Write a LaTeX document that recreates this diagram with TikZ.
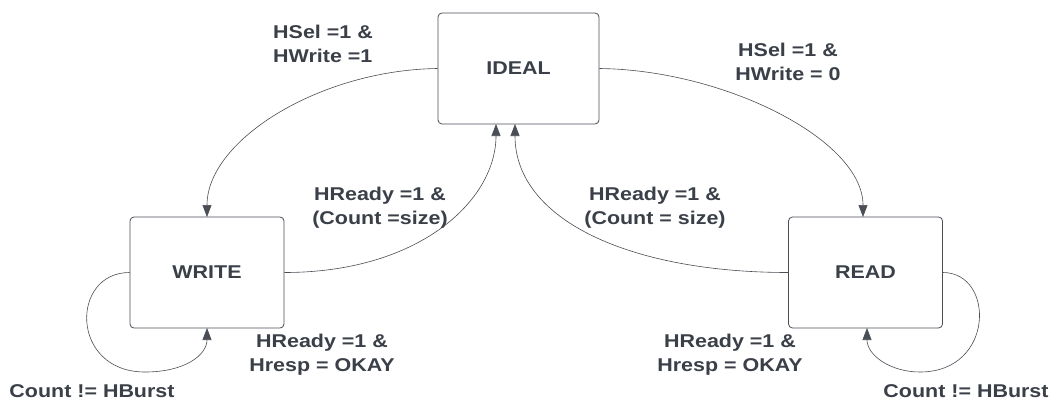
\documentclass[tikz,border=0pt]{standalone}
\usepackage{fontspec}
\setmainfont[FakeStretch=1.16]{Liberation Sans}
\usetikzlibrary{arrows.meta}
\definecolor{txt}{HTML}{3A3F48}
\definecolor{edge}{HTML}{4A4E55}
\tikzset{
  state/.style={draw=edge, line width=0.8pt, rounded corners=4pt, fill=white,
    minimum width=154pt, minimum height=111pt, inner sep=0pt,
    font=\fontsize{18.5}{24}\selectfont\bfseries, text=txt},
  lbl/.style={font=\fontsize{18.5}{24}\selectfont\bfseries, text=txt, inner sep=0pt, align=center},
  conn/.style={draw=edge, line width=0.6pt, -{Triangle[length=12pt,width=9pt]}},
}
\begin{document}
\begin{tikzpicture}[x=1pt,y=-1pt]
\useasboundingbox (0,0) rectangle (1054,401);
\fill[white] (0,0) rectangle (1054,401);
% states
\node[state, minimum width=161pt] (ideal) at (518.5,68.5) {IDEAL};
\node[state] (write) at (207,272.5) {WRITE};
\node[state] (read) at (865.5,272.5) {READ};
% anchor coordinates on IDEAL bottom
\coordinate (i1) at (496,124);
\coordinate (i2) at (515,124);
\coordinate (wt) at (207,217);
\coordinate (rt) at (863,217);
\coordinate (wb) at (207,328);
\coordinate (rb) at (867,328);
% edges
\draw[conn] (ideal.west) .. controls (320,70) and (207,140) .. (wt);
\draw[conn] (ideal.east) .. controls (725,70) and (863,140) .. (rt);
\draw[conn] (write.east) .. controls (420,272.5) and (496,200) .. (i1);
\draw[conn] (read.west) .. controls (630,272.5) and (515,220) .. (i2);
\draw[conn] (write.west) .. controls (70,272.5) and (70,372) .. (145,372) .. controls (185,372) and (207,355) .. (wb);
\draw[conn] (read.east) .. controls (995,272.5) and (995,372) .. (920,372) .. controls (890,372) and (867,355) .. (rb);
% labels
\node[lbl, align=left, anchor=west] (l1) at (273,43.5) {HSel =1 \&\\HWrite =1};
\node[lbl] (l2) at (788,62) {HSel =1 \&\\HWrite = 0};
\node[lbl] (l3) at (380,208) {HReady =1 \&\\(Count =size)};
\node[lbl] (l4) at (655,208) {HReady =1 \&\\(Count = size)};
\node[lbl] (l5) at (322,355) {HReady =1 \&\\Hresp = OKAY};
\node[lbl] (l6) at (730,355) {HReady =1 \&\\Hresp = OKAY};
\node[lbl] (l7) at (92,391.5) {Count != HBurst};
\node[lbl] (l8) at (966,391.5) {Count != HBurst};
\end{tikzpicture}
\end{document}
